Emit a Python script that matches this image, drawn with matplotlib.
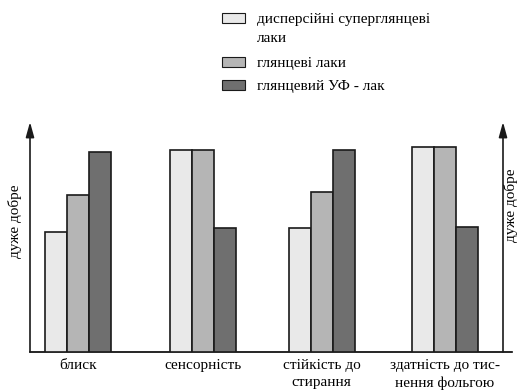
import matplotlib.pyplot as plt
import matplotlib.patches as mpatches
import numpy as np

plt.rcParams["font.family"] = ["Liberation Serif", "DejaVu Serif"]

# properties on the x axis
categories = ["блиск", "сенсорність", "стійкість до\nстирання", "здатність до тис-\nнення фольгою"]
# series (relative rating, top of scale = "дуже добре")
series_names = ["дисперсійні суперглянцеві\nлаки", "глянцеві лаки", "глянцевий УФ - лак"]
dispersion = [6.0, 10.1, 6.2, 10.25]
gloss = [7.85, 10.1, 8.0, 10.25]
uv = [10.0, 6.2, 10.1, 6.25]
series_values = [dispersion, gloss, uv]
series_colors = ["#e9e9e9", "#b5b5b5", "#6f6f6f"]

fig = plt.figure(figsize=(5.2, 3.92), dpi=100)
ax = fig.add_axes([30 / 520, 40 / 392, 482 / 520, 232 / 392])

bar_w = 1.0
centers = np.array([2.2, 7.85, 13.25, 18.85])
for k, (vals, col) in enumerate(zip(series_values, series_colors)):
    ax.bar(centers + (k - 1) * bar_w, vals, width=bar_w, color=col,
           edgecolor="#1a1a1a", linewidth=1.2, zorder=3)

ax.set_xlim(0, 482 / 22)
ax.set_ylim(0, 232 / 20)
for s in ("top", "right", "left"):
    ax.spines[s].set_visible(False)
ax.spines["bottom"].set_linewidth(1.2)
ax.set_yticks([])
ax.set_xticks(centers)
ax.set_xticklabels(categories, fontsize=11, linespacing=1.45)
ax.tick_params(axis="x", length=0, pad=5)

# axis arrows (left and right)
right_x = (503 - 30) / 22
for xa in (0.0, right_x):
    ax.annotate("", xy=(xa, 11.5), xytext=(xa, 0), xycoords="data",
                arrowprops=dict(arrowstyle="-|>,head_length=0.9,head_width=0.25",
                                color="#1a1a1a", lw=1.2, shrinkA=0, shrinkB=0),
                annotation_clip=False)

fig.text(15 / 520, 1 - 221 / 392, "дуже добре", rotation=90, ha="center", va="center", fontsize=11)
fig.text(511 / 520, 1 - 205 / 392, "дуже добре", rotation=90, ha="center", va="center", fontsize=11)

# legend
leg_y = [18, 62, 85]
for name, col, y in zip(series_names, series_colors, leg_y):
    fig.patches.append(mpatches.Rectangle((222 / 520, 1 - (y + 5) / 392), 23 / 520, 10 / 392,
                                          transform=fig.transFigure, facecolor=col,
                                          edgecolor="#1a1a1a", linewidth=0.8))
    fig.text(257 / 520, 1 - (y - 5) / 392, name, ha="left", va="top", fontsize=11, linespacing=1.6)

fig.savefig("out.png", dpi=100)
